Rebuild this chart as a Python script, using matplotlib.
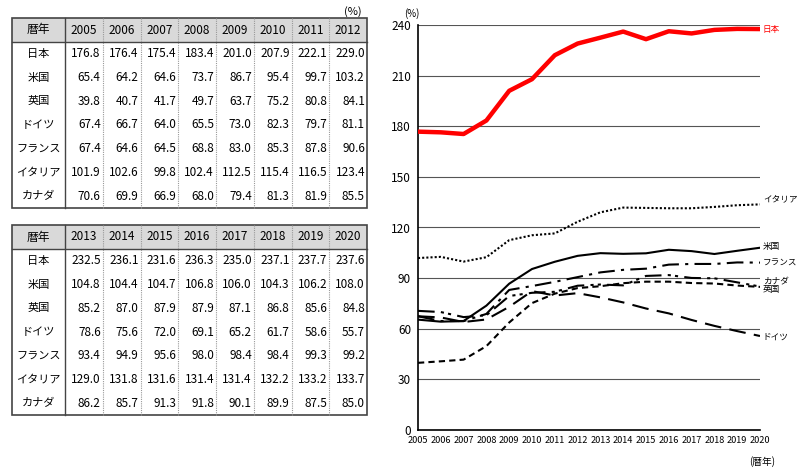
import numpy as np
import matplotlib.pyplot as plt
from matplotlib.patches import Rectangle

plt.rcParams['font.family'] = ['Noto Sans CJK JP', 'DejaVu Sans']

years = list(range(2005, 2021))
countries = ['日本', '米国', '英国', 'ドイツ', 'フランス', 'イタリア', 'カナダ']

japan = [176.8, 176.4, 175.4, 183.4, 201.0, 207.9, 222.1, 229.0,
         232.5, 236.1, 231.6, 236.3, 235.0, 237.1, 237.7, 237.6]
usa = [65.4, 64.2, 64.6, 73.7, 86.7, 95.4, 99.7, 103.2,
       104.8, 104.4, 104.7, 106.8, 106.0, 104.3, 106.2, 108.0]
uk = [39.8, 40.7, 41.7, 49.7, 63.7, 75.2, 80.8, 84.1,
      85.2, 87.0, 87.9, 87.9, 87.1, 86.8, 85.6, 84.8]
germany = [67.4, 66.7, 64.0, 65.5, 73.0, 82.3, 79.7, 81.1,
           78.6, 75.6, 72.0, 69.1, 65.2, 61.7, 58.6, 55.7]
france = [67.4, 64.6, 64.5, 68.8, 83.0, 85.3, 87.8, 90.6,
          93.4, 94.9, 95.6, 98.0, 98.4, 98.4, 99.3, 99.2]
italy = [101.9, 102.6, 99.8, 102.4, 112.5, 115.4, 116.5, 123.4,
         129.0, 131.8, 131.6, 131.4, 131.4, 132.2, 133.2, 133.7]
canada = [70.6, 69.9, 66.9, 68.0, 79.4, 81.3, 81.9, 85.5,
          86.2, 85.7, 91.3, 91.8, 90.1, 89.9, 87.5, 85.0]

series = [japan, usa, uk, germany, france, italy, canada]

fig = plt.figure(figsize=(8, 4.69), dpi=100)
W, H = 800, 469

# ---------- tables (pixel coordinates) ----------
tab = fig.add_axes([0, 0, 1, 1])
tab.set_xlim(0, W)
tab.set_ylim(H, 0)
tab.axis('off')

def draw_table(yrs, top, bottom):
    left, right = 12, 367
    lab_w = 53
    col_w = (right - left - lab_w) / len(yrs)
    head_h = 24
    row_h = (bottom - top - head_h) / len(countries)
    tab.add_patch(Rectangle((left, top), right - left, head_h,
                            facecolor='#d9d9d9', edgecolor='none'))
    tab.add_patch(Rectangle((left, top), right - left, bottom - top,
                            facecolor='none', edgecolor='#444444', lw=1.2))
    tab.plot([left, right], [top + head_h] * 2, color='#444444', lw=1.0)
    tab.plot([left + lab_w] * 2, [top, bottom], color='#444444', lw=1.0)
    for j in range(1, len(yrs)):
        x = left + lab_w + j * col_w
        tab.plot([x, x], [top, bottom], color='#999999', lw=0.8, ls=(0, (1, 1)))
    tab.text(left + lab_w / 2, top + head_h / 2, '暦年', ha='center', va='center', fontsize=8.5)
    for j, yr in enumerate(yrs):
        tab.text(left + lab_w + (j + 0.5) * col_w, top + head_h / 2, str(yr),
                 ha='center', va='center', fontsize=8.5)
    for i, c in enumerate(countries):
        yc = top + head_h + (i + 0.5) * row_h
        tab.text(left + lab_w / 2, yc, c, ha='center', va='center', fontsize=8)
        for j, yr in enumerate(yrs):
            v = series[i][years.index(yr)]
            tab.text(left + lab_w + (j + 1) * col_w - 2, yc, f'{v:.1f}',
                     ha='right', va='center', fontsize=8.5)

tab.text(362, 12, '(%)', ha='right', va='center', fontsize=8)
draw_table(years[:8], 18, 208)
draw_table(years[8:], 225, 415)

# ---------- line chart ----------
ax = fig.add_axes([418 / W, 1 - 430 / H, (760 - 418) / W, (430 - 25) / H])
styles = [
    dict(color='#ff0000', lw=3.2, ls='-'),
    dict(color='black', lw=1.5, ls='-'),
    dict(color='black', lw=1.5, ls=(0, (3, 2))),
    dict(color='black', lw=1.5, ls=(0, (8, 4))),
    dict(color='black', lw=1.5, ls=(0, (8, 3, 1.5, 3))),
    dict(color='black', lw=1.5, ls=(0, (1, 1))),
    dict(color='black', lw=1.5, ls=(0, (8, 3, 1.5, 2, 1.5, 3))),
]
order = [5, 1, 4, 6, 2, 3, 0]
for i in order:
    ax.plot(years, series[i], zorder=3, **styles[i])

ax.set_xlim(2005, 2020)
ax.set_ylim(0, 240)
ax.set_yticks(np.arange(0, 241, 30))
ax.set_xticks(years)
ax.tick_params(axis='x', labelsize=6.6, length=0, pad=4)
ax.tick_params(axis='y', labelsize=8.5, length=0, pad=5)
ax.grid(axis='y', color='#555555', lw=0.8)
for s in ['top', 'right']:
    ax.spines[s].set_visible(False)
for s in ['left', 'bottom']:
    ax.spines[s].set_linewidth(1.2)

label_y = [237.6, 109, 83, 55, 99, 137, 88.5]
for i, c in enumerate(countries):
    ax.text(2020.12, label_y[i], c, ha='left', va='center', fontsize=6.2,
            color='#ff0000' if i == 0 else 'black', clip_on=False)

ax.text(-0.04, 1.015, '(%)', transform=ax.transAxes, ha='left', va='bottom', fontsize=7)
ax.text(1.045, -0.065, '(暦年)', transform=ax.transAxes, ha='right', va='top', fontsize=7)

fig.savefig('out.png', dpi=100)
